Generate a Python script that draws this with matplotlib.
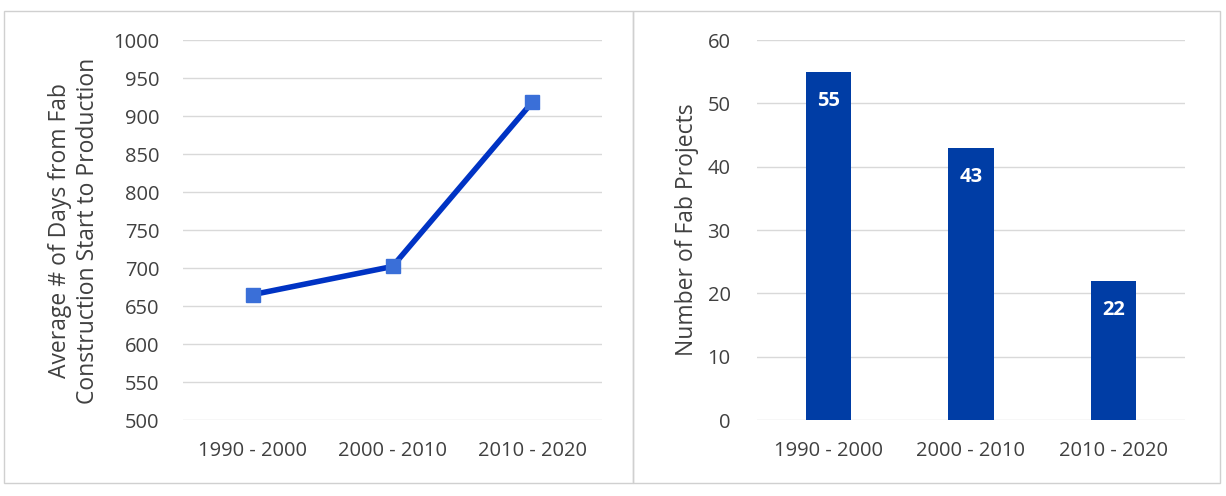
import matplotlib
matplotlib.use("Agg")
import matplotlib.pyplot as plt
from matplotlib.patches import Rectangle

periods = ["1990 - 2000", "2000 - 2010", "2010 - 2020"]
avg_days = [665, 702, 918]
fab_projects = [55, 43, 22]

plt.rcParams['font.family'] = ['Open Sans', 'DejaVu Sans']
text_color = "#404040"
label_color = "#404040"
grid_color = "#D9D9D9"

fig = plt.figure(figsize=(12.26, 4.96), dpi=100)
W, H = 1226, 496

def fx(x): return x / W
def fy(y): return 1 - y / H

# panel borders
for (x0, x1) in [(4, 633), (633, 1220)]:
    fig.patches.append(Rectangle((fx(x0), fy(483)), fx(x1) - fx(x0), fy(11) - fy(483),
                                 transform=fig.transFigure, fill=False,
                                 edgecolor="#D0D0D0", linewidth=1.0))

def style(ax, ypad):
    for s in ax.spines.values():
        s.set_visible(False)
    ax.tick_params(axis='both', length=0, colors=text_color, labelsize=14.5)
    ax.tick_params(axis='x', pad=15)
    ax.tick_params(axis='y', pad=ypad)
    ax.yaxis.grid(True, color=grid_color, linewidth=1.0)
    ax.set_axisbelow(True)

# Left: line chart
ax1 = fig.add_axes([fx(183), fy(420), fx(602) - fx(183), fy(40) - fy(420)])
x = list(range(len(periods)))
ax1.plot(x, avg_days, color="#0033C4", linewidth=4, marker='s', markersize=10,
         markerfacecolor="#3A6FD8", markeredgecolor="#3A6FD8", zorder=3)
ax1.set_xlim(-0.5, 2.5)
ax1.set_ylim(500, 1000)
ax1.set_yticks(range(500, 1001, 50))
ax1.set_xticks(x)
ax1.set_xticklabels(periods)
style(ax1, 17)
fig.text(fx(74), fy(231), "Average # of Days from Fab\nConstruction Start to Production",
         rotation=90, ha='center', va='center', fontsize=16.5, color=label_color,
         linespacing=1.2, multialignment='center')

# Right: bar chart
ax2 = fig.add_axes([fx(757), fy(420), fx(1185) - fx(757), fy(40) - fy(420)])
ax2.bar(x, fab_projects, width=0.32, color="#003DA5", zorder=3)
ax2.set_xlim(-0.5, 2.5)
ax2.set_ylim(0, 60)
ax2.set_yticks(range(0, 61, 10))
ax2.set_xticks(x)
ax2.set_xticklabels(periods)
style(ax2, 19)
fig.text(fx(687), fy(230), "Number of Fab Projects", rotation=90, ha='center',
         va='center', fontsize=16.5, color=label_color)
for xi, v in zip(x, fab_projects):
    ax2.annotate(str(v), (xi, v), xytext=(0, -21), textcoords='offset points',
                 ha='center', va='center', color='white', fontsize=14.5,
                 fontweight='bold', zorder=4)

fig.savefig("out.png", dpi=100, facecolor="white")
